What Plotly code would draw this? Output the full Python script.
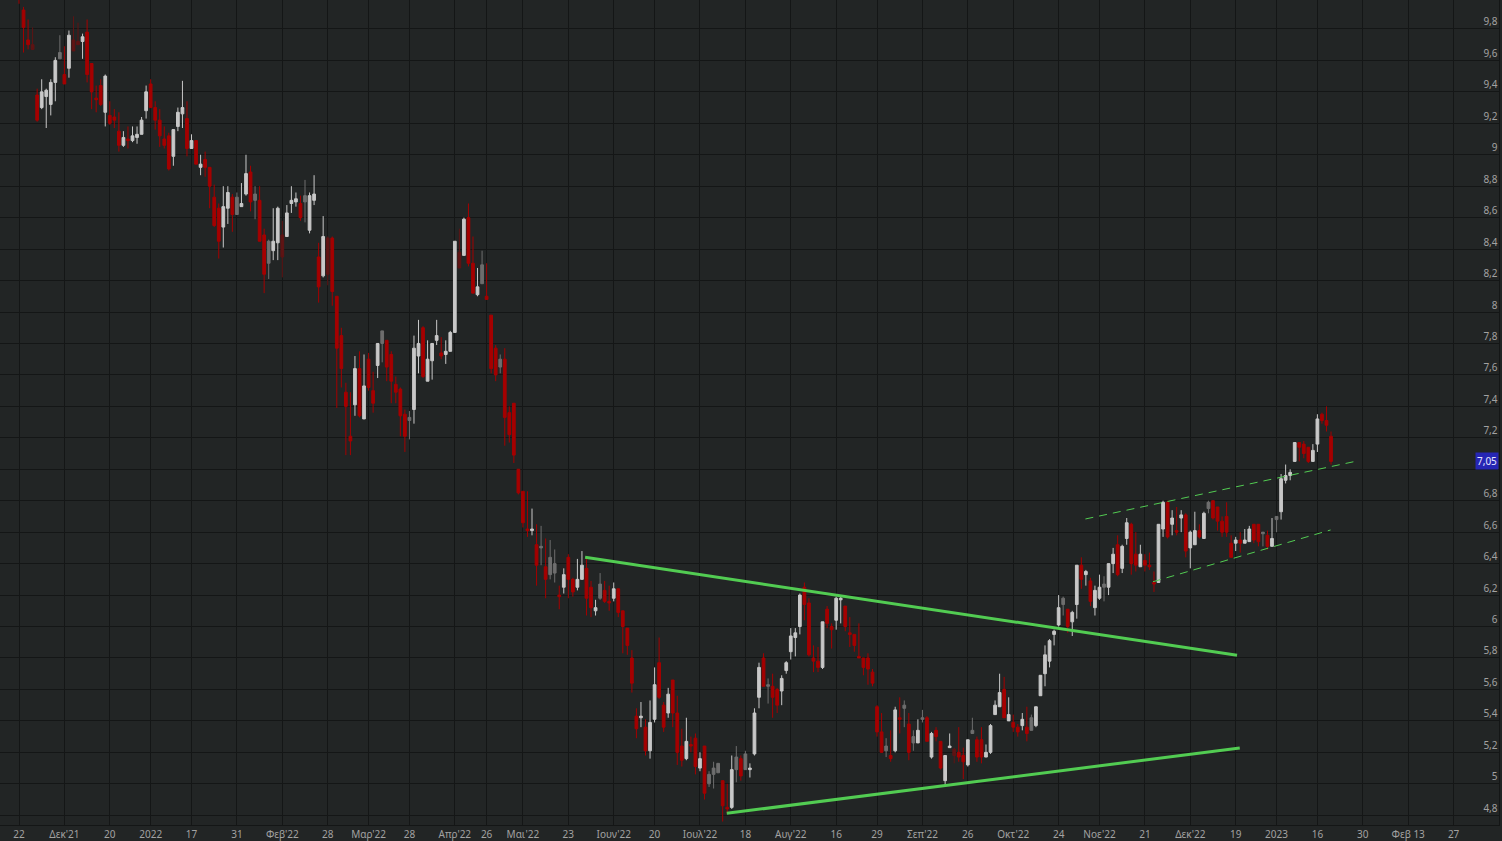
import plotly.graph_objects as go

# ---- daily candles (bar index 0 = 22 Nov 2021) ----
opens = [10.05, 9.92, 9.73, 9.70, 9.38, 9.30, 9.37, 9.32, 9.46, 9.61,
         9.51, 9.55, 9.73, 9.72, 9.72, 9.78, 9.58, 9.36, 9.44, 9.27,
         9.25, 9.24, 9.15, 9.06, 9.10, 9.09, 9.11, 9.13, 9.28, 9.45,
         9.30, 9.22, 9.10, 9.12, 8.99, 9.18, 9.26, 9.23, 9.04, 9.09,
         8.92, 8.97, 8.92, 8.73, 8.66, 8.54, 8.66, 8.73, 8.62, 8.67,
         8.75, 8.89, 8.71, 8.71, 8.49, 8.31, 8.39, 8.44, 8.49, 8.48,
         8.69, 8.70, 8.69, 8.70, 8.52, 8.71, 8.35, 8.23, 8.47, 8.47,
         8.10, 7.85, 7.49, 7.21, 7.41, 7.64, 7.32, 7.70, 7.50, 7.66,
         7.80, 7.82, 7.73, 7.54, 7.51, 7.35, 7.31, 7.38, 7.72, 7.90,
         7.56, 7.69, 7.82, 7.74, 7.73, 7.75, 7.87, 8.38, 8.36, 8.60,
         8.31, 8.11, 8.18, 8.10, 7.98, 7.77, 7.65, 7.70, 7.36, 7.42,
         7.00, 6.86, 6.62, 6.61, 6.52, 6.50, 6.38, 6.33, 6.34, 6.20,
         6.25, 6.44, 6.30, 6.25, 6.30, 6.37, 6.25, 6.10, 6.18, 6.23,
         6.16, 6.18, 6.24, 6.10, 5.99, 5.80, 5.43, 5.42, 5.36, 5.21,
         5.41, 5.77, 5.50, 5.45, 5.66, 5.45, 5.24, 5.16, 5.25, 5.29,
         5.10, 5.24, 5.00, 5.06, 5.07, 5.02, 4.85, 4.85, 5.09, 5.16,
         5.09, 5.09, 5.19, 5.55, 5.80, 5.62, 5.62, 5.60, 5.59, 5.72,
         5.84, 5.93, 6.00, 6.25, 6.15, 5.80, 5.78, 5.74, 6.11, 6.00,
         6.04, 6.17, 6.13, 5.96, 5.95, 5.81, 5.80, 5.80, 5.71, 5.49,
         5.33, 5.21, 5.18, 5.21, 5.42, 5.48, 5.38, 5.26, 5.26, 5.41,
         5.42, 5.17, 5.34, 5.27, 5.02, 5.23, 5.22, 5.20, 5.18, 5.12,
         5.32, 5.28, 5.28, 5.17, 5.20, 5.44, 5.49, 5.60, 5.40, 5.39,
         5.36, 5.37, 5.36, 5.34, 5.37, 5.56, 5.70, 5.78, 5.95, 6.01,
         6.14, 6.11, 6.03, 6.14, 6.39, 6.33, 6.29, 6.12, 6.18, 6.25,
         6.25, 6.40, 6.52, 6.37, 6.56, 6.65, 6.46, 6.38, 6.42, 6.39,
         6.28, 6.28, 6.62, 6.79, 6.65, 6.61, 6.69, 6.71, 6.50, 6.52,
         6.61, 6.56, 6.75, 6.80, 6.76, 6.67, 6.70, 6.53, 6.53, 6.55,
         6.53, 6.54, 6.65, 6.65, 6.59, 6.58, 6.51, 6.68, 6.73, 6.93,
         6.96, 7.05, 7.17, 7.16, 7.14, 7.05, 7.16, 7.35, 7.31, 7.21]
highs = [10.10, 9.94, 9.86, 9.81, 9.42, 9.48, 9.42, 9.48, 9.62, 9.76,
         9.69, 9.79, 9.88, 9.84, 9.77, 9.86, 9.58, 9.44, 9.48, 9.51,
         9.34, 9.29, 9.27, 9.15, 9.18, 9.18, 9.18, 9.24, 9.44, 9.48,
         9.34, 9.29, 9.18, 9.14, 9.16, 9.30, 9.47, 9.34, 9.13, 9.09,
         9.00, 9.02, 8.92, 8.81, 8.69, 8.80, 8.80, 8.75, 8.76, 8.82,
         9.00, 8.93, 8.80, 8.80, 8.53, 8.46, 8.66, 8.67, 8.58, 8.68,
         8.80, 8.76, 8.74, 8.84, 8.76, 8.87, 8.44, 8.61, 8.48, 8.48,
         8.10, 7.90, 7.55, 7.49, 7.72, 7.75, 7.73, 7.74, 7.62, 7.80,
         7.88, 7.82, 7.75, 7.59, 7.52, 7.38, 7.37, 7.85, 7.95, 7.91,
         7.82, 7.80, 7.95, 7.84, 7.82, 7.88, 8.45, 8.53, 8.60, 8.69,
         8.48, 8.28, 8.39, 8.31, 7.98, 7.79, 7.73, 7.77, 7.40, 7.42,
         7.00, 6.86, 6.86, 6.75, 6.65, 6.64, 6.56, 6.55, 6.49, 6.26,
         6.37, 6.46, 6.31, 6.43, 6.48, 6.44, 6.29, 6.17, 6.34, 6.29,
         6.26, 6.28, 6.24, 6.10, 5.99, 5.85, 5.48, 5.52, 5.41, 5.53,
         5.74, 5.93, 5.52, 5.61, 5.66, 5.56, 5.35, 5.42, 5.30, 5.32,
         5.20, 5.24, 5.08, 5.14, 5.13, 5.02, 5.00, 5.18, 5.24, 5.18,
         5.21, 5.13, 5.48, 5.77, 5.83, 5.67, 5.70, 5.61, 5.69, 5.78,
         5.99, 5.99, 6.21, 6.28, 6.18, 5.88, 5.87, 6.03, 6.13, 6.02,
         6.19, 6.19, 6.13, 6.06, 5.95, 6.02, 5.80, 5.83, 5.73, 5.50,
         5.45, 5.29, 5.34, 5.49, 5.55, 5.53, 5.45, 5.34, 5.41, 5.47,
         5.43, 5.33, 5.36, 5.27, 5.18, 5.32, 5.23, 5.36, 5.23, 5.28,
         5.42, 5.30, 5.36, 5.25, 5.38, 5.53, 5.70, 5.68, 5.55, 5.44,
         5.38, 5.45, 5.49, 5.44, 5.49, 5.69, 5.88, 5.92, 5.98, 6.20,
         6.19, 6.11, 6.10, 6.39, 6.44, 6.36, 6.31, 6.26, 6.33, 6.32,
         6.40, 6.50, 6.58, 6.52, 6.69, 6.66, 6.60, 6.52, 6.46, 6.47,
         6.35, 6.65, 6.80, 6.80, 6.74, 6.76, 6.74, 6.72, 6.61, 6.73,
         6.65, 6.73, 6.80, 6.80, 6.76, 6.70, 6.79, 6.58, 6.57, 6.60,
         6.62, 6.64, 6.65, 6.65, 6.60, 6.61, 6.69, 6.70, 6.97, 7.03,
         7.00, 7.17, 7.17, 7.18, 7.14, 7.16, 7.35, 7.36, 7.40, 7.24]
lows = [9.96, 9.65, 9.67, 9.67, 9.21, 9.29, 9.17, 9.25, 9.34, 9.61,
        9.45, 9.49, 9.66, 9.70, 9.61, 9.46, 9.29, 9.27, 9.31, 9.18,
        9.19, 9.17, 9.02, 9.05, 9.04, 9.08, 9.07, 9.13, 9.23, 9.30,
        9.16, 9.05, 9.04, 8.90, 8.93, 9.15, 9.17, 8.99, 9.04, 8.94,
        8.87, 8.86, 8.66, 8.54, 8.34, 8.41, 8.56, 8.51, 8.62, 8.67,
        8.74, 8.64, 8.59, 8.45, 8.12, 8.21, 8.33, 8.33, 8.22, 8.48,
        8.63, 8.67, 8.58, 8.57, 8.50, 8.68, 8.06, 8.22, 8.17, 8.04,
        7.39, 7.52, 7.09, 7.09, 7.34, 7.33, 7.32, 7.50, 7.36, 7.58,
        7.68, 7.56, 7.42, 7.42, 7.21, 7.11, 7.19, 7.29, 7.61, 7.58,
        7.56, 7.57, 7.79, 7.70, 7.67, 7.75, 7.87, 8.28, 8.36, 8.29,
        8.12, 8.10, 8.18, 8.08, 7.61, 7.56, 7.61, 7.15, 7.17, 7.04,
        6.84, 6.63, 6.57, 6.58, 6.26, 6.39, 6.18, 6.30, 6.28, 6.11,
        6.21, 6.18, 6.19, 6.23, 6.30, 6.07, 6.06, 6.07, 6.17, 6.15,
        6.10, 6.16, 6.06, 5.83, 5.82, 5.58, 5.29, 5.36, 5.18, 5.16,
        5.39, 5.54, 5.33, 5.42, 5.36, 5.12, 5.11, 5.15, 5.20, 5.06,
        5.08, 4.90, 4.98, 4.97, 5.07, 4.76, 4.81, 4.84, 5.01, 5.02,
        5.09, 5.04, 5.18, 5.48, 5.62, 5.51, 5.42, 5.45, 5.50, 5.70,
        5.79, 5.81, 5.95, 6.04, 5.81, 5.71, 5.71, 5.73, 5.99, 5.86,
        5.98, 6.02, 5.97, 5.87, 5.84, 5.80, 5.69, 5.63, 5.62, 5.30,
        5.20, 5.17, 5.14, 5.20, 5.32, 5.36, 5.15, 5.21, 5.26, 5.39,
        5.27, 5.16, 5.27, 5.09, 4.99, 5.23, 5.13, 5.14, 5.03, 5.11,
        5.32, 5.14, 5.13, 5.17, 5.19, 5.44, 5.49, 5.42, 5.40, 5.33,
        5.30, 5.34, 5.27, 5.34, 5.36, 5.56, 5.62, 5.74, 5.88, 6.00,
        6.07, 5.96, 5.94, 6.05, 6.24, 6.26, 6.13, 6.07, 6.17, 6.16,
        6.20, 6.34, 6.32, 6.34, 6.52, 6.33, 6.35, 6.38, 6.35, 6.36,
        6.22, 6.28, 6.57, 6.56, 6.58, 6.58, 6.60, 6.44, 6.37, 6.52,
        6.56, 6.56, 6.72, 6.68, 6.61, 6.57, 6.57, 6.44, 6.48, 6.47,
        6.53, 6.54, 6.53, 6.51, 6.51, 6.49, 6.51, 6.60, 6.68, 6.91,
        6.93, 7.05, 7.05, 7.07, 7.04, 7.05, 7.11, 7.29, 7.24, 7.03]
closes = [9.99, 9.81, 9.70, 9.67, 9.22, 9.40, 9.41, 9.46, 9.60, 9.65,
          9.45, 9.76, 9.66, 9.70, 9.75, 9.51, 9.40, 9.35, 9.32, 9.50,
          9.20, 9.22, 9.06, 9.11, 9.09, 9.12, 9.13, 9.22, 9.40, 9.30,
          9.22, 9.12, 9.06, 8.91, 9.16, 9.27, 9.30, 9.04, 9.09, 8.94,
          8.94, 8.92, 8.80, 8.55, 8.45, 8.67, 8.76, 8.62, 8.73, 8.69,
          8.88, 8.70, 8.75, 8.45, 8.24, 8.45, 8.45, 8.66, 8.35, 8.63,
          8.71, 8.72, 8.60, 8.74, 8.74, 8.75, 8.16, 8.48, 8.24, 8.13,
          7.77, 7.64, 7.40, 7.18, 7.64, 7.34, 7.53, 7.52, 7.42, 7.80,
          7.88, 7.65, 7.56, 7.49, 7.34, 7.21, 7.33, 7.77, 7.80, 7.59,
          7.70, 7.80, 7.85, 7.72, 7.75, 7.87, 8.45, 8.28, 8.59, 8.31,
          8.12, 8.16, 8.30, 8.08, 7.64, 7.60, 7.70, 7.33, 7.22, 7.09,
          6.85, 6.66, 6.61, 6.62, 6.39, 6.51, 6.30, 6.44, 6.40, 6.19,
          6.33, 6.30, 6.22, 6.30, 6.39, 6.18, 6.12, 6.12, 6.27, 6.16,
          6.15, 6.24, 6.09, 6.00, 5.88, 5.64, 5.35, 5.43, 5.21, 5.39,
          5.63, 5.55, 5.36, 5.57, 5.45, 5.20, 5.15, 5.27, 5.24, 5.11,
          5.16, 4.94, 5.06, 5.10, 5.13, 4.86, 4.84, 5.09, 5.17, 5.05,
          5.19, 5.10, 5.45, 5.74, 5.62, 5.63, 5.55, 5.50, 5.67, 5.77,
          5.94, 5.96, 6.20, 6.14, 5.82, 5.78, 5.74, 6.03, 6.02, 5.98,
          6.18, 6.18, 6.00, 5.95, 5.88, 5.80, 5.74, 5.73, 5.64, 5.33,
          5.20, 5.24, 5.16, 5.47, 5.41, 5.50, 5.20, 5.30, 5.34, 5.42,
          5.27, 5.32, 5.30, 5.10, 5.18, 5.24, 5.18, 5.17, 5.14, 5.28,
          5.34, 5.17, 5.17, 5.20, 5.37, 5.50, 5.58, 5.42, 5.44, 5.36,
          5.33, 5.41, 5.32, 5.42, 5.49, 5.69, 5.82, 5.91, 5.97, 6.12,
          6.18, 6.00, 6.09, 6.39, 6.30, 6.35, 6.16, 6.23, 6.25, 6.27,
          6.40, 6.46, 6.33, 6.51, 6.66, 6.40, 6.39, 6.46, 6.39, 6.38,
          6.27, 6.65, 6.79, 6.57, 6.69, 6.60, 6.71, 6.48, 6.60, 6.61,
          6.57, 6.72, 6.79, 6.69, 6.67, 6.60, 6.60, 6.44, 6.55, 6.53,
          6.55, 6.62, 6.55, 6.54, 6.60, 6.51, 6.56, 6.70, 6.94, 6.96,
          6.98, 7.17, 7.14, 7.10, 7.05, 7.12, 7.32, 7.31, 7.28, 7.05]

# candles drawn in the platform's muted shade
faded_bars = [3, 9, 12, 13, 48, 52, 55, 58, 63, 68, 80, 86, 97, 102, 106,
              115, 117, 118, 128, 152, 153, 154, 158, 160, 165, 191, 195,
              197, 199, 206, 210, 223, 230, 239, 262, 274, 277]

last_price = 7.05
last_price_label = "7,05"

# ---- axis ticks ----
x_tick_bars = [0, 10, 20, 29, 38, 48, 58, 68, 77, 86, 96, 103, 111, 121, 131,
               140, 150, 160, 170, 180, 189, 199, 209, 219, 229, 238, 248,
               258, 268, 277, 286, 296, 306, 316]
x_tick_labels = ["22", "Δεκ'21", "20", "2022", "17", "31", "Φεβ'22", "28",
                 "Μαρ'22", "28", "Απρ'22", "26", "Μαι'22", "23", "Ιουν'22",
                 "20", "Ιουλ'22", "18", "Αυγ'22", "16", "29", "Σεπ'22", "26",
                 "Οκτ'22", "24", "Νοε'22", "21", "Δεκ'22", "19", "2023", "16",
                 "30", "Φεβ 13", "27"]
y_tick_values = [4.8, 5.0, 5.2, 5.4, 5.6, 5.8, 6.0, 6.2, 6.4, 6.6, 6.8, 7.0,
                 7.2, 7.4, 7.6, 7.8, 8.0, 8.2, 8.4, 8.6, 8.8, 9.0, 9.2, 9.4,
                 9.6, 9.8]
y_tick_labels = ["4,8", "5", "5,2", "5,4", "5,6", "5,8", "6", "6,2", "6,4",
                 "6,6", "6,8", "7", "7,2", "7,4", "7,6", "7,8", "8", "8,2",
                 "8,4", "8,6", "8,8", "9", "9,2", "9,4", "9,6", "9,8"]

# ---- drawn trend lines (bar index, price) ----
triangle_top_bars = [124.7, 268.3]
triangle_top_prices = [6.44, 5.817]
triangle_bottom_bars = [155.9, 268.9]
triangle_bottom_prices = [4.812, 5.228]
channel_top_bars = [234.9, 294.8]
channel_top_prices = [6.684, 7.053]
channel_bottom_bars = [249.8, 288.9]
channel_bottom_prices = [6.285, 6.614]

BG = "#222525"
GRID = "#141616"
TXT = "#a2a2a2"

faded_set = set(faded_bars)
idx_all = list(range(len(opens)))
main_idx = [i for i in idx_all if i not in faded_set]
fade_idx = [i for i in idx_all if i in faded_set]


def pick(arr, ids):
    return [arr[i] for i in ids]


fig = go.Figure()
fig.add_trace(go.Candlestick(
    x=main_idx, open=pick(opens, main_idx), high=pick(highs, main_idx),
    low=pick(lows, main_idx), close=pick(closes, main_idx),
    increasing=dict(line=dict(color="#c8c8c8", width=1), fillcolor="#c8c8c8"),
    decreasing=dict(line=dict(color="#a50000", width=1), fillcolor="#a50000"),
    whiskerwidth=0, hoverinfo="skip", showlegend=False))
fig.add_trace(go.Candlestick(
    x=fade_idx, open=pick(opens, fade_idx), high=pick(highs, fade_idx),
    low=pick(lows, fade_idx), close=pick(closes, fade_idx),
    increasing=dict(line=dict(color="#6e6e6e", width=1), fillcolor="#6e6e6e"),
    decreasing=dict(line=dict(color="#5f1414", width=1), fillcolor="#5f1414"),
    whiskerwidth=0, hoverinfo="skip", showlegend=False))

for bx, py, w, dash in [
    (triangle_top_bars, triangle_top_prices, 3, "solid"),
    (triangle_bottom_bars, triangle_bottom_prices, 3, "solid"),
    (channel_top_bars, channel_top_prices, 1, "8px,6px"),
    (channel_bottom_bars, channel_bottom_prices, 1, "8px,6px"),
]:
    fig.add_trace(go.Scatter(x=bx, y=py, mode="lines",
                             line=dict(color="#52cc52", width=w, dash=dash),
                             hoverinfo="skip", showlegend=False))

fig.add_annotation(x=1, xref="paper", y=last_price, yref="y",
                   text=last_price_label, showarrow=False, xanchor="right",
                   yanchor="middle", bgcolor="#2626b4", borderpad=1,
                   font=dict(color="#e8e8ff", size=10, family="Noto Sans"))

fig.update_layout(
    width=1502, height=841,
    margin=dict(l=0, r=3, t=0, b=16),
    paper_bgcolor=BG, plot_bgcolor=BG,
    showlegend=False,
    boxgap=0.4, boxgroupgap=0,
    font=dict(family="Noto Sans", color=TXT, size=10),
    xaxis=dict(range=[-4.185, 326.0], tickmode="array", tickvals=x_tick_bars,
               ticktext=x_tick_labels, showgrid=True, gridcolor=GRID,
               gridwidth=1, zeroline=False, showline=True, linecolor=GRID,
               ticks="", tickfont=dict(size=10, color=TXT),
               rangeslider=dict(visible=False), fixedrange=True),
    yaxis=dict(side="right", range=[4.738, 9.984], tickmode="array",
               tickvals=y_tick_values, ticktext=y_tick_labels,
               ticklabelposition="inside top", showgrid=True, gridcolor=GRID,
               gridwidth=1, zeroline=False, showline=True, linecolor=GRID,
               ticks="", tickfont=dict(size=10, color=TXT), fixedrange=True),
)

fig.write_html(
    "out.html",
    config={"displayModeBar": False},
    post_script="document.body.style.margin='0';"
                "document.body.style.background='" + BG + "';",
)
